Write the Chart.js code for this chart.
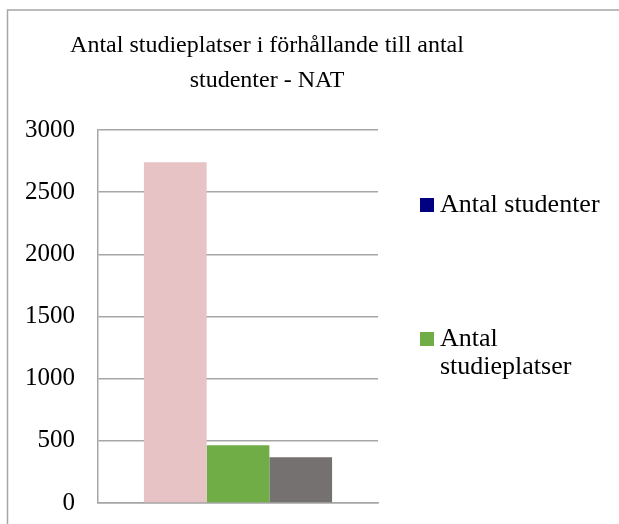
<!DOCTYPE html>
<html><head><meta charset="utf-8">
<script src="https://cdn.jsdelivr.net/npm/chart.js@4"></script>
<style>html,body{margin:0;padding:0;background:#fff}#wrap{width:619px;height:524px;position:relative}</style>
</head><body><div id="wrap"><canvas id="c" width="619" height="524"></canvas></div>
<script>
const titleLines = ['Antal studieplatser i förhållande till antal', 'studenter - NAT'];
const categories = ['NAT'];
const seriesNames = ['Antal studenter', 'Antal studieplatser', 'Övrigt'];
const seriesValues = [[2740], [464], [368]];
const barColors = ['#E7C3C6', '#70AD47', '#767171'];
const legendLabels = [['Antal studenter'], ['Antal', 'studieplatser']];
const legendColors = ['#000080', '#70AD47'];
const yTicks = [0, 500, 1000, 1500, 2000, 2500, 3000];
const FONT = '"Liberation Serif", "Times New Roman", serif';

const framePlugin = {
  id: 'frame',
  beforeDraw(chart) {
    const ctx = chart.ctx;
    ctx.save();
    ctx.strokeStyle = '#a6a6a6';
    ctx.lineWidth = 1.5;
    ctx.beginPath();
    ctx.moveTo(7.5, 530); ctx.lineTo(7.5, 10); ctx.lineTo(630, 10);
    ctx.stroke();
    ctx.restore();
  }
};
const textPlugin = {
  id: 'customText',
  afterDraw(chart) {
    const ctx = chart.ctx;
    ctx.save();
    ctx.textBaseline = 'middle';
    ctx.fillStyle = '#000';
    ctx.font = '24px ' + FONT;
    ctx.textAlign = 'center';
    titleLines.forEach((t, j) => ctx.fillText(t, 267, 46 + j * 35));
    ctx.textAlign = 'left';
    ctx.font = '26px ' + FONT;
    const tops = [198, 332];
    legendLabels.forEach((lines, i) => {
      ctx.fillStyle = legendColors[i];
      ctx.fillRect(420, tops[i], 14, 14);
      ctx.fillStyle = '#000';
      lines.forEach((t, j) => ctx.fillText(t, 440, tops[i] + 7 + j * 28));
    });
    ctx.restore();
  }
};

new Chart(document.getElementById('c'), {
  type: 'bar',
  data: {
    labels: categories,
    datasets: seriesNames.map((n, i) => ({
      label: n, data: seriesValues[i], backgroundColor: barColors[i],
      borderWidth: 0, barPercentage: 1, categoryPercentage: 0.672
    }))
  },
  options: {
    responsive: false, animation: false,
    layout: { padding: { left: 0, right: 241, top: 130, bottom: 21 } },
    plugins: {
      legend: { display: false },
      tooltip: { enabled: false },
      title: { display: false }
    },
    scales: {
      x: {
        ticks: { display: false },
        grid: { display: false, drawTicks: false },
        border: { display: true, color: '#a6a6a6', width: 1.5 }
      },
      y: {
        min: 0, max: 3000,
        afterFit(s) { s.width = 98; },
        afterBuildTicks(s) { s.ticks = yTicks.map(v => ({ value: v })); },
        ticks: { color: '#000', padding: 0, font: { family: FONT, size: 25 }, callback: v => String(v) },
        grid: { color: '#a6a6a6', lineWidth: 1.5, drawTicks: true, tickLength: 23, tickColor: 'rgba(0,0,0,0)' },
        border: { display: true, color: '#a6a6a6', width: 1.5 }
      }
    }
  },
  plugins: [framePlugin, textPlugin]
});
</script></body></html>
